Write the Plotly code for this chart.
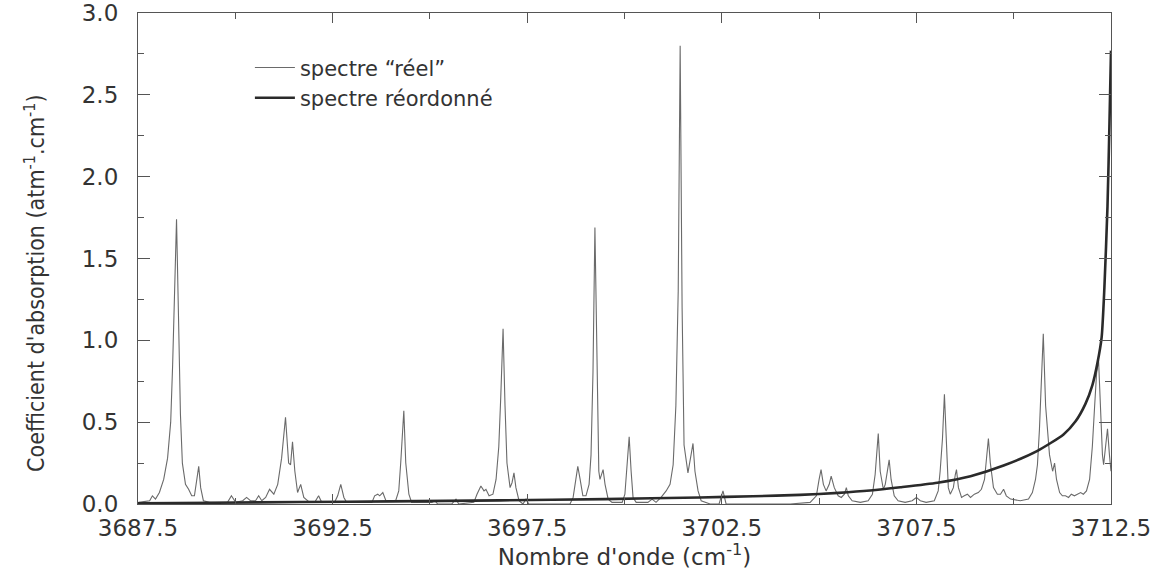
import plotly.graph_objects as go

# "real" spectrum (wavenumber cm-1, absorption coefficient)
reel_x = [3687.51, 3687.80, 3687.87, 3687.95, 3688.05, 3688.16, 3688.26, 3688.34, 3688.39, 3688.44,
          3688.49, 3688.54, 3688.59, 3688.64, 3688.72, 3688.80, 3688.88, 3688.95, 3689.00, 3689.06,
          3689.11, 3689.18, 3689.34, 3689.80, 3689.90, 3690.01, 3690.19, 3690.29, 3690.39, 3690.52,
          3690.60, 3690.68, 3690.78, 3690.88, 3690.99, 3691.09, 3691.19, 3691.29, 3691.37, 3691.42,
          3691.47, 3691.53, 3691.60, 3691.68, 3691.76, 3691.91, 3692.04, 3692.14, 3692.22, 3692.55,
          3692.63, 3692.71, 3692.79, 3692.86, 3693.51, 3693.58, 3693.66, 3693.71, 3693.79, 3693.87,
          3694.12, 3694.20, 3694.25, 3694.33, 3694.38, 3694.46, 3694.53, 3695.05, 3695.13, 3695.20,
          3695.56, 3695.67, 3695.74, 3696.13, 3696.21, 3696.31, 3696.39, 3696.44, 3696.52, 3696.62,
          3696.70, 3696.77, 3696.82, 3696.88, 3696.93, 3696.98, 3697.06, 3697.11, 3697.16, 3697.21,
          3697.29, 3697.39, 3697.47, 3697.54, 3697.83, 3698.60, 3698.68, 3698.75, 3698.80, 3698.86,
          3698.93, 3699.01, 3699.09, 3699.14, 3699.19, 3699.24, 3699.29, 3699.34, 3699.37, 3699.42,
          3699.45, 3699.50, 3699.58, 3699.68, 3699.94, 3700.01, 3700.06, 3700.12, 3700.17, 3700.22,
          3700.30, 3700.60, 3700.71, 3700.81, 3700.94, 3701.07, 3701.17, 3701.25, 3701.32, 3701.38,
          3701.43, 3701.48, 3701.53, 3701.58, 3701.63, 3701.71, 3701.76, 3701.81, 3701.89, 3701.97,
          3702.20, 3702.43, 3702.48, 3702.53, 3702.61, 3703.49, 3704.26, 3704.77, 3704.93, 3705.00,
          3705.05, 3705.11, 3705.18, 3705.26, 3705.31, 3705.39, 3705.49, 3705.57, 3705.65, 3705.70,
          3705.75, 3705.85, 3706.06, 3706.26, 3706.37, 3706.44, 3706.52, 3706.57, 3706.65, 3706.70,
          3706.75, 3706.80, 3706.85, 3706.93, 3707.03, 3707.21, 3707.39, 3707.50, 3707.60, 3707.75,
          3707.96, 3708.06, 3708.11, 3708.17, 3708.22, 3708.27, 3708.32, 3708.37, 3708.45, 3708.50,
          3708.53, 3708.58, 3708.66, 3708.73, 3708.81, 3708.89, 3708.99, 3709.09, 3709.17, 3709.25,
          3709.30, 3709.35, 3709.40, 3709.48, 3709.58, 3709.66, 3709.74, 3709.81, 3709.92, 3710.17,
          3710.38, 3710.48, 3710.56, 3710.61, 3710.66, 3710.71, 3710.76, 3710.82, 3710.87, 3710.92,
          3711.00, 3711.05, 3711.10, 3711.18, 3711.25, 3711.33, 3711.41, 3711.48, 3711.56, 3711.64,
          3711.72, 3711.79, 3711.87, 3711.95, 3712.02, 3712.08, 3712.13, 3712.18, 3712.23, 3712.28,
          3712.31, 3712.36, 3712.41, 3712.46, 3712.50]
reel_y = [0.01, 0.02, 0.05, 0.03, 0.07, 0.15, 0.28, 0.50, 0.85, 1.30,
          1.74, 1.15, 0.55, 0.25, 0.12, 0.09, 0.05, 0.05, 0.12, 0.23,
          0.10, 0.02, 0.01, 0.01, 0.05, 0.01, 0.02, 0.04, 0.02, 0.02,
          0.05, 0.02, 0.04, 0.09, 0.06, 0.12, 0.28, 0.53, 0.25, 0.24,
          0.38, 0.20, 0.07, 0.12, 0.04, 0.01, 0.01, 0.05, 0.01, 0.01,
          0.05, 0.12, 0.04, 0.01, 0.01, 0.05, 0.06, 0.05, 0.07, 0.02,
          0.02, 0.08, 0.25, 0.57, 0.25, 0.06, 0.01, 0.01, 0.02, 0.00,
          0.00, 0.03, 0.00, 0.01, 0.06, 0.11, 0.08, 0.09, 0.05, 0.06,
          0.15, 0.35, 0.65, 1.07, 0.60, 0.25, 0.10, 0.13, 0.19, 0.10,
          0.02, 0.00, 0.03, 0.00, 0.00, 0.00, 0.04, 0.15, 0.23, 0.15,
          0.05, 0.05, 0.12, 0.30, 0.80, 1.69, 0.80, 0.20, 0.15, 0.19,
          0.21, 0.12, 0.03, 0.01, 0.01, 0.06, 0.20, 0.41, 0.20, 0.04,
          0.01, 0.01, 0.03, 0.01, 0.04, 0.08, 0.12, 0.24, 0.60, 1.30,
          2.80, 1.20, 0.36, 0.27, 0.19, 0.30, 0.37, 0.20, 0.08, 0.02,
          0.00, 0.00, 0.04, 0.08, 0.00, 0.00, 0.00, 0.01, 0.05, 0.15,
          0.21, 0.12, 0.08, 0.12, 0.17, 0.10, 0.05, 0.04, 0.06, 0.10,
          0.05, 0.02, 0.01, 0.02, 0.06, 0.18, 0.43, 0.20, 0.09, 0.12,
          0.20, 0.27, 0.15, 0.05, 0.02, 0.01, 0.02, 0.04, 0.02, 0.01,
          0.02, 0.08, 0.20, 0.40, 0.67, 0.35, 0.10, 0.06, 0.10, 0.18,
          0.21, 0.10, 0.04, 0.05, 0.06, 0.04, 0.06, 0.07, 0.09, 0.15,
          0.28, 0.40, 0.25, 0.10, 0.06, 0.06, 0.09, 0.05, 0.03, 0.02,
          0.03, 0.07, 0.15, 0.24, 0.45, 0.75, 1.04, 0.60, 0.45, 0.30,
          0.20, 0.25, 0.15, 0.07, 0.05, 0.05, 0.04, 0.06, 0.05, 0.06,
          0.07, 0.06, 0.08, 0.15, 0.35, 0.60, 0.80, 0.88, 0.60, 0.30,
          0.24, 0.35, 0.46, 0.30, 0.20]

# reordered spectrum
reord_x = [3687.50, 3689.50, 3691.65, 3694.00, 3696.80, 3699.50, 3701.94, 3703.30, 3704.51, 3705.50,
           3706.31, 3707.09, 3708.04, 3708.89, 3709.74, 3710.61, 3711.28, 3711.59, 3711.84, 3712.02,
           3712.15, 3712.26, 3712.33, 3712.41, 3712.46, 3712.50]
reord_y = [0.005, 0.008, 0.012, 0.016, 0.022, 0.030, 0.040, 0.047, 0.056, 0.068,
           0.082, 0.102, 0.130, 0.170, 0.235, 0.325, 0.425, 0.505, 0.610, 0.725,
           0.860, 1.020, 1.320, 1.820, 2.320, 2.770]

x_tick_vals = [3687.5, 3692.5, 3697.5, 3702.5, 3707.5, 3712.5]
y_tick_vals = [0.0, 0.5, 1.0, 1.5, 2.0, 2.5, 3.0]

wide_font = "DejaVu Sans"
narrow_font = "DejaVu Sans Condensed, Liberation Sans Narrow, Liberation Sans"
txt = "#333333"

fig = go.Figure()
fig.add_trace(go.Scatter(x=reel_x, y=reel_y, mode="lines", name="spectre “réel”",
                         line=dict(color="#6a6a6a", width=1.1)))
fig.add_trace(go.Scatter(x=reord_x, y=reord_y, mode="lines", name="spectre réordonné",
                         line=dict(color="#2a2a2a", width=2.6, shape="spline", smoothing=0.6)))

axis_common = dict(showline=True, linecolor="#555555", linewidth=1.2, mirror="allticks",
                   ticks="inside", tickcolor="#555555", showgrid=False, zeroline=False)

fig.update_xaxes(range=[3687.5, 3712.5], tickvals=x_tick_vals, ticktext=[f"{v:.1f}" for v in x_tick_vals],
                 ticklen=10, tickwidth=1, ticklabelstandoff=3,
                 minor=dict(tick0=3687.5, dtick=2.5, ticks="inside", ticklen=6, tickcolor="#555555"),
                 tickfont=dict(family=wide_font, size=23, color=txt),
                 title=dict(text="Nombre d'onde (cm<sup>-1</sup>)", standoff=5,
                            font=dict(family=wide_font, size=23, color=txt)),
                 **axis_common)
fig.update_yaxes(range=[0, 3.0], tickvals=y_tick_vals, ticktext=[f"{v:.1f}" for v in y_tick_vals],
                 ticklen=12, tickwidth=1,
                 minor=dict(tick0=0, dtick=0.25, ticks="inside", ticklen=6, tickcolor="#555555"),
                 tickfont=dict(family=wide_font, size=23, color=txt),
                 ticklabelstandoff=14,
                 **axis_common)

fig.add_annotation(text="Coefficient d'absorption (atm<sup>-1</sup>.cm<sup>-1</sup>)",
                   xref="paper", yref="paper", x=-0.106, y=0.45, xanchor="center", yanchor="middle",
                   textangle=-90, showarrow=False,
                   font=dict(family=narrow_font, size=23, color=txt))

fig.update_layout(width=1170, height=570,
                  margin=dict(l=138, r=59, t=13, b=66, autoexpand=False),
                  paper_bgcolor="white", plot_bgcolor="white",
                  showlegend=True,
                  legend=dict(x=0.115, y=0.93, xanchor="left", yanchor="top",
                              bgcolor="rgba(0,0,0,0)", borderwidth=0,
                              font=dict(family=wide_font, size=21, color=txt),
                              itemwidth=40, tracegroupgap=0))

fig.write_html("out.html")
